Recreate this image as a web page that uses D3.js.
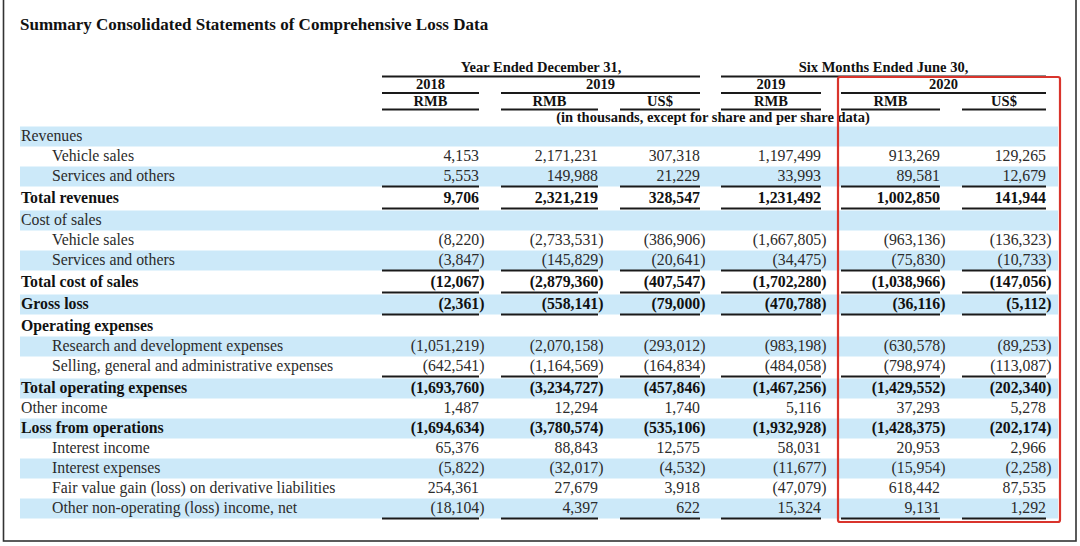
<!DOCTYPE html>
<html><head><meta charset="utf-8">
<script src="https://cdn.jsdelivr.net/npm/d3@7"></script>
<style>html,body{margin:0;padding:0;background:#fff;} svg{display:block;}</style>
</head><body><svg id="c" width="1080" height="546"></svg>
<script>
// ---------- data ----------
const title = "Summary Consolidated Statements of Comprehensive Loss Data";
const periodLabels = ["Year Ended December 31,", "Six Months Ended June 30,"];
const yearLabels = ["2018", "2019", "2019", "2020"];
const currencyLabels = ["RMB", "RMB", "US$", "RMB", "RMB", "US$"];
const unitNote = "(in thousands, except for share and per share data)";
const rowLabels = [
  "Revenues", "Vehicle sales", "Services and others", "Total revenues",
  "Cost of sales", "Vehicle sales", "Services and others", "Total cost of sales",
  "Gross loss", "Operating expenses", "Research and development expenses",
  "Selling, general and administrative expenses", "Total operating expenses",
  "Other income", "Loss from operations", "Interest income", "Interest expenses",
  "Fair value gain (loss) on derivative liabilities", "Other non-operating (loss) income, net"
];
const fy2018Rmb = [null, 4153, 5553, 9706, null, -8220, -3847, -12067, -2361, null, -1051219, -642541, -1693760, 1487, -1694634, 65376, -5822, 254361, -18104];
const fy2019Rmb = [null, 2171231, 149988, 2321219, null, -2733531, -145829, -2879360, -558141, null, -2070158, -1164569, -3234727, 12294, -3780574, 88843, -32017, 27679, 4397];
const fy2019Usd = [null, 307318, 21229, 328547, null, -386906, -20641, -407547, -79000, null, -293012, -164834, -457846, 1740, -535106, 12575, -4532, 3918, 622];
const h2019Rmb = [null, 1197499, 33993, 1231492, null, -1667805, -34475, -1702280, -470788, null, -983198, -484058, -1467256, 5116, -1932928, 58031, -11677, -47079, 15324];
const h2020Rmb = [null, 913269, 89581, 1002850, null, -963136, -75830, -1038966, -36116, null, -630578, -798974, -1429552, 37293, -1428375, 20953, -15954, 618442, 9131];
const h2020Usd = [null, 129265, 12679, 141944, null, -136323, -10733, -147056, -5112, null, -89253, -113087, -202340, 5278, -202174, 2966, -2258, 87535, 1292];
const boldRows = [3, 7, 8, 9, 12, 14];
const indentRows = [1, 2, 5, 6, 10, 11, 15, 16, 17, 18];
const underlineRows = [2, 3, 6, 7, 8, 11, 18];

// ---------- layout ----------
const columns = [fy2018Rmb, fy2019Rmb, fy2019Usd, h2019Rmb, h2020Rmb, h2020Usd];
const colSpan = [[382, 479], [501, 598], [620, 700], [721, 821], [841, 940], [962, 1046]];
const yearSpan = [[0, 0], [1, 2], [3, 3], [4, 5]];
const periodSpan = [[0, 2], [3, 5]];
const serif = "'Liberation Serif','Times New Roman',Times,serif";
const bodySize = 15.8;

// row centers: 20px pitch, +2px where a rule separates two rows
const units = [];
let acc = 0;
rowLabels.forEach((d, i) => {
  if (i > 0) { acc += 20; if (underlineRows.includes(i - 1)) acc += 2; }
  units.push(acc);
});
const yScale = d3.scaleLinear().domain([0, 1]).range([136, 137]);
const rowY = i => yScale(units[i]);

const svg = d3.select("#c");
svg.append("rect").attr("width", 1080).attr("height", 546).attr("fill", "#fff");

// bands
svg.append("g").selectAll("rect")
  .data(rowLabels.map((d, i) => i).filter(i => i % 2 === 0))
  .join("rect")
  .attr("x", 20).attr("width", 1038)
  .attr("y", i => rowY(i) - 9.5).attr("height", 20)
  .attr("fill", "#cce9f9");

// title
svg.append("text").attr("x", 20).attr("y", 30)
  .attr("font-family", serif).attr("font-weight", "bold").attr("font-size", 17)
  .attr("fill", "#111").text(title);

// header
const hdr = svg.append("g").attr("font-family", serif).attr("font-weight", "bold")
  .attr("font-size", 14.5).attr("fill", "#111").attr("text-anchor", "middle");
const rule = (g, x1, x2, y, w) => g.append("line").attr("x1", x1).attr("x2", x2)
  .attr("y1", y).attr("y2", y).attr("stroke", "#1a1a1a").attr("stroke-width", w || 2);

periodSpan.forEach((s, i) => {
  const x1 = colSpan[s[0]][0], x2 = colSpan[s[1]][1];
  hdr.append("text").attr("x", (x1 + x2) / 2).attr("y", 72).text(periodLabels[i]);
  rule(hdr, x1, x2, 76.5);
});
yearSpan.forEach((s, i) => {
  const x1 = colSpan[s[0]][0], x2 = colSpan[s[1]][1];
  hdr.append("text").attr("x", (x1 + x2) / 2).attr("y", 89).text(yearLabels[i]);
  rule(hdr, x1, x2, 93);
});
currencyLabels.forEach((c, i) => {
  const [x1, x2] = colSpan[i];
  hdr.append("text").attr("x", (x1 + x2) / 2).attr("y", 106).text(c);
  rule(hdr, x1, x2, 109.5);
});
hdr.append("text").attr("x", 713).attr("y", 122).text(unitNote);

// labels
svg.append("g").selectAll("text").data(rowLabels).join("text")
  .attr("x", (d, i) => indentRows.includes(i) ? 52 : 21)
  .attr("y", (d, i) => rowY(i) + 5)
  .attr("font-family", serif).attr("font-size", bodySize)
  .attr("font-weight", (d, i) => boldRows.includes(i) ? "bold" : "normal")
  .attr("fill", (d, i) => boldRows.includes(i) ? "#111" : "#2b2b2b")
  .text(d => d);

// values
const fmt = d3.format(",");
const cells = [];
columns.forEach((col, c) => col.forEach((v, r) => { if (v !== null) cells.push({ c, r, v }); }));
svg.append("g").selectAll("text").data(cells).join("text")
  .attr("x", d => colSpan[d.c][1] + (d.v < 0 ? 5.5 : 0))
  .attr("y", d => rowY(d.r) + 5)
  .attr("text-anchor", "end")
  .attr("font-family", serif).attr("font-size", bodySize)
  .attr("font-weight", d => boldRows.includes(d.r) ? "bold" : "normal")
  .attr("fill", d => boldRows.includes(d.r) ? "#111" : "#2b2b2b")
  .text(d => d.v < 0 ? "(" + fmt(-d.v) + ")" : fmt(d.v));

// underlines
const ul = svg.append("g");
underlineRows.forEach(r => colSpan.forEach(([x1, x2]) => rule(ul, x1, x2, rowY(r) + 10.5)));

// highlight box
svg.append("rect").attr("x", 838).attr("y", 77).attr("width", 222).attr("height", 445)
  .attr("rx", 2).attr("fill", "none").attr("stroke", "#d9342c").attr("stroke-width", 2.2);

// outer frame
svg.append("rect").attr("x", 3.5).attr("y", -3).attr("width", 1072.5).attr("height", 544)
  .attr("fill", "none").attr("stroke", "#333").attr("stroke-width", 1.6);
</script></body></html>
